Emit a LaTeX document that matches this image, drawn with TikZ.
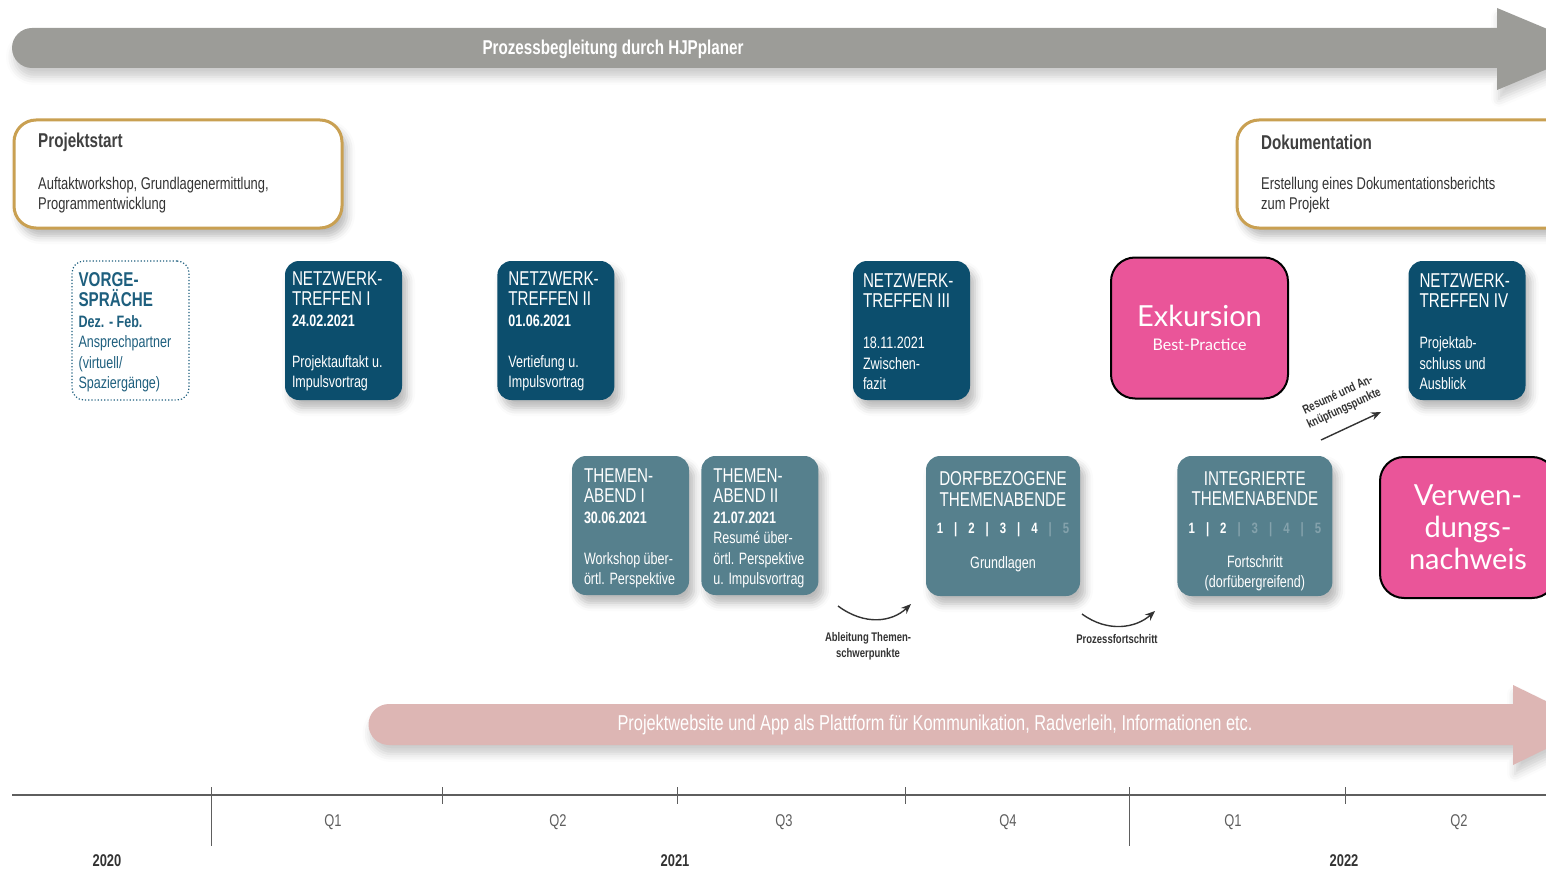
\documentclass[tikz,border=0pt]{standalone}
\usepackage{fontspec}
\setmainfont{Liberation Sans}[FakeStretch=0.76]
\newfontfamily\pinkfont{Lato}
\usetikzlibrary{positioning,arrows.meta,shadows.blur}
\definecolor{bargray}{HTML}{9C9C98}
\definecolor{netzblue}{HTML}{0C4E6D}
\definecolor{themenblue}{HTML}{56808D}
\definecolor{fadeblue}{HTML}{84A2AC}
\definecolor{exkpink}{HTML}{EA5599}
\definecolor{startgold}{HTML}{C9A052}
\definecolor{webpink}{HTML}{DDB6B4}
\definecolor{talkblue}{HTML}{1E5F7E}
\definecolor{titlegray}{HTML}{404040}
\definecolor{notegray}{HTML}{333333}
\definecolor{axisgray}{HTML}{5E5E5E}

\newcommand{\boxtitle}[1]{{\fontsize{20}{20}\selectfont #1}}
\newcommand{\talktitle}[1]{{\bfseries\fontsize{20}{20}\selectfont #1}}
\newcommand{\boxdate}[1]{{\bfseries #1}}
\newcommand{\numsep}{\hspace{11pt}|\hspace{11pt}}

\tikzset{box shadow/.style={blur shadow={shadow xshift=5pt,shadow yshift=-8pt,shadow blur radius=8pt,shadow opacity=28}},
         bar shadow/.style={blur shadow={shadow xshift=2pt,shadow yshift=-9pt,shadow blur radius=8pt,shadow opacity=20}},
         netz node/.style={rectangle,rounded corners=14pt,fill=netzblue,minimum width=117pt,minimum height=139pt,box shadow},
         themen node/.style={netz node,fill=themenblue},
         talk node/.style={rectangle,rounded corners=12pt,draw=talkblue,dotted,line width=1.2pt,fill=white,minimum width=117pt,minimum height=139pt},
         pink node/.style={rectangle,rounded corners=24pt,fill=exkpink,draw=black,line width=2pt,text=white,align=center},
         info node/.style={rectangle,rounded corners=22pt,draw=startgold,line width=3pt,fill=white,minimum height=108pt,box shadow},
         box text/.style={inner sep=0pt,anchor=west,align=left,text=white,font=\fontsize{16.5}{20.5}\selectfont},
         mid text/.style={box text,anchor=center,align=center},
         info title/.style={inner sep=0pt,anchor=west,text=titlegray,font=\bfseries\fontsize{20}{20}\selectfont},
         info text/.style={inner sep=0pt,anchor=west,align=left,text=notegray,font=\fontsize{17}{20}\selectfont},
         bar text/.style={text=white,font=\bfseries\fontsize{20}{20}\selectfont},
         note label/.style={inner sep=0pt,align=center,text=notegray,font=\bfseries\fontsize{12.5}{16}\selectfont},
         note arrow/.style={draw=notegray,line width=1.4pt,-{Stealth[length=10pt,width=8pt]}},
         quarter label/.style={text=axisgray,font=\fontsize{17}{20}\selectfont},
         year label/.style={text=notegray,font=\bfseries\fontsize{17}{20}\selectfont},
            }

\begin{document}
\begin{tikzpicture}[x=1pt,y=-1pt]
    \useasboundingbox (0,0) rectangle (1546,869);

    % top bar and web bar
    \fill[bargray,bar shadow] (1497,28) -- (1497,8) -- (1595,49) -- (1497,90) -- (1497,68) -- (32,68)
        arc[start angle=90,end angle=270,radius=20] -- cycle;
    \node[bar text] (hjp) at (613,49) {Prozessbegleitung durch HJPplaner};

    \fill[webpink,bar shadow] (1513,704) -- (1513,685) -- (1595,725) -- (1513,765) -- (1513,745) -- (389,745)
        arc[start angle=90,end angle=270,radius=20.5] -- cycle;
    \node[bar text,font=\fontsize{21.5}{20}\selectfont] (web) at (935,725) {Projektwebsite und App als Plattform für Kommunikation, Radverleih, Informationen etc.};

    % start and end
    \node[info node,minimum width=328pt] (start) at (178,174) {};
    \node[info title] (start title) at (38,142) {Projektstart};
    \node[info text] (start text) at (38,195) {Auftaktworkshop, Grundlagenermittlung,\\Programmentwicklung};
    \node[info node,minimum width=333pt] (doku) at (1403.5,174) {};
    \node[info title] (doku title) at (1261,142) {Dokumentation};
    \node[info text] (doku text) at (1261,195) {Erstellung eines Dokumentationsberichts\\zum Projekt};

    % upper row
    \node[talk node] (vorg) at (130.5,330.5) {};
    \node[box text,text=talkblue] (vorg text) at ([xshift=7pt,yshift=-1.5pt]vorg.west)
        {\talktitle{VORGE-}\\\talktitle{SPRÄCHE}\\\boxdate{Dez. - Feb.}\\Ansprechpartner\\(virtuell/\\Spaziergänge)};
    \node[netz node] (nt1) at (343.5,330.5) {};
    \node[box text] (nt1 text) at ([xshift=7pt,yshift=-1pt]nt1.west)
        {\boxtitle{NETZWERK-}\\\boxtitle{TREFFEN I}\\\boxdate{24.02.2021}\\[20.5pt]Projektauftakt u.\\Impulsvortrag};
    \node[netz node] (nt2) [right = 95pt of nt1] {};
    \node[box text] (nt2 text) at ([xshift=11pt,yshift=-1pt]nt2.west)
        {\boxtitle{NETZWERK-}\\\boxtitle{TREFFEN II}\\\boxdate{01.06.2021}\\[20.5pt]Vertiefung u.\\Impulsvortrag};
    \node[netz node] (nt3) at (911.5,330.5) {};
    \node[box text] (nt3 text) at ([xshift=10pt,yshift=-1pt]nt3.west)
        {\boxtitle{NETZWERK-}\\\boxtitle{TREFFEN III}\\[20.5pt]18.11.2021\\Zwischen-\\fazit};
    \node[pink node,minimum width=177pt,minimum height=141pt,font=\pinkfont\fontsize{29}{24}\selectfont] (exk) at (1199.5,328)
        {Exkursion\\{\fontsize{16}{24}\selectfont Best-Practice}};
    \node[netz node] (nt4) at (1467,330.5) {};
    \node[box text] (nt4 text) at ([xshift=11pt,yshift=-1pt]nt4.west)
        {\boxtitle{NETZWERK-}\\\boxtitle{TREFFEN IV}\\[20.5pt]Projektab-\\schluss und\\Ausblick};

    % lower row
    \node[themen node] (th1) at (630.5,525.5) {};
    \node[box text] (th1 text) at ([xshift=12pt,yshift=-3pt]th1.west)
        {\boxtitle{THEMEN-}\\\boxtitle{ABEND I}\\\boxdate{30.06.2021}\\[20.5pt]Workshop über-\\örtl. Perspektive};
    \node[themen node] (th2) [right = 12pt of th1] {};
    \node[box text] (th2 text) at ([xshift=12pt,yshift=-3pt]th2.west)
        {\boxtitle{THEMEN-}\\\boxtitle{ABEND II}\\\boxdate{21.07.2021}\\Resumé über-\\örtl. Perspektive\\u. Impulsvortrag};
    \node[themen node,minimum width=154pt,minimum height=140pt] (dorf) at (1003,526) {};
    \node[mid text] (dorf text) at ([yshift=4pt]dorf.center)
        {\boxtitle{DORFBEZOGENE}\\\boxtitle{THEMENABENDE}\\[6.5pt]{\bfseries\fontsize{15}{20}\selectfont 1\numsep 2\numsep 3\numsep 4{\color{fadeblue}\numsep 5}}\\[15pt]Grundlagen};
    \node[themen node,minimum width=155pt,minimum height=140pt] (integ) [right = 97pt of dorf] {};
    \node[mid text] (integ text) at ([yshift=-5pt]integ.center)
        {\boxtitle{INTEGRIERTE}\\\boxtitle{THEMENABENDE}\\[7.5pt]{\bfseries\fontsize{15}{20}\selectfont 1\numsep 2{\color{fadeblue}\numsep 3\numsep 4\numsep 5}}\\[13pt]Fortschritt\\(dorfübergreifend)};
    \node[pink node,minimum width=176pt,minimum height=141pt,font=\pinkfont\fontsize{29}{32}\selectfont] (verw) at (1468,527.5)
        {Verwen-\\dungs-\\nachweis};

    % small arrows
    \coordinate (abl start) at (838,606);
    \coordinate (abl end) at (911,604);
    \draw[note arrow] (abl start) .. controls (865,626) and (892,622) .. (abl end);
    \node[note label] (abl) at (868,646) {Ableitung Themen-\\schwerpunkte};
    \coordinate (proz start) at (1082,614);
    \coordinate (proz end) at (1155,611);
    \draw[note arrow] (proz start) .. controls (1108,633) and (1136,628) .. (proz end);
    \node[note label] (proz) at (1117,639) {Prozessfortschritt};
    \coordinate (res start) at (1321,440);
    \coordinate (res end) at (1381,412);
    \draw[note arrow] (res start) -- (res end);
    \node[note label,rotate=25,font=\bfseries\fontsize{12.5}{15}\selectfont] (res) at (1341,402) {Resumé und An-\\knüpfungspunkte};

    % time axis
    \draw[axisgray,line width=2pt] (12,795) -- (1546,795);
    \foreach \x in {211,1129}
        \draw[axisgray,line width=1pt] (\x,787) -- (\x,846);
    \foreach \x in {442,677,905,1345}
        \draw[axisgray,line width=1pt] (\x,787) -- (\x,804);
    \foreach \x/\q in {333/Q1,558/Q2,784/Q3,1008/Q4,1233/Q1,1459/Q2}
        \node[quarter label] (q\x) at (\x,822) {\q};
    \foreach \x/\yr in {107/2020,675/2021,1344/2022}
        \node[year label] (y\yr) at (\x,861) {\yr};
\end{tikzpicture}
\end{document}
